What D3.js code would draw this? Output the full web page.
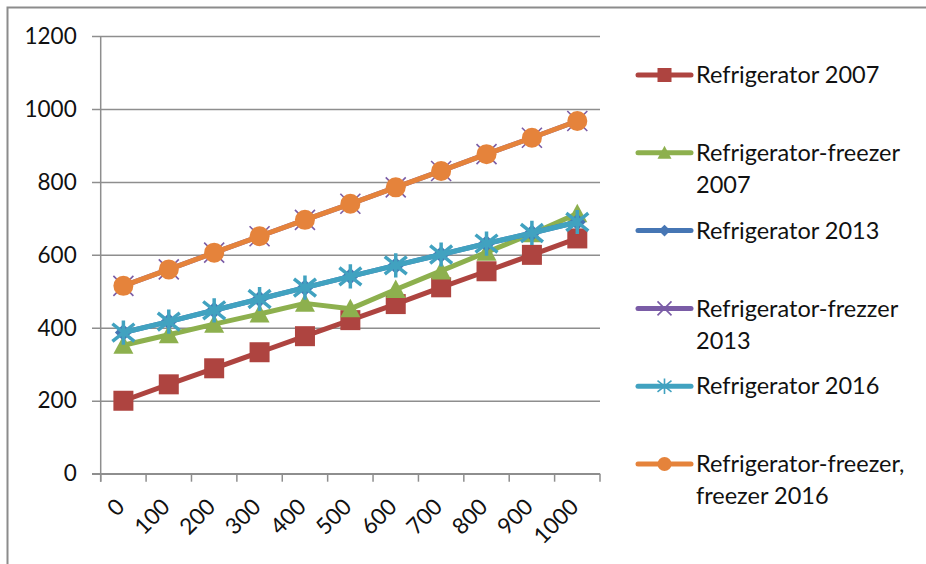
<!DOCTYPE html>
<html>
<head>
<meta charset="utf-8">
<script src="https://cdn.jsdelivr.net/npm/d3@7"></script>
<style>
  html, body { margin: 0; padding: 0; background: #fff; }
  svg { display: block; }
  text { font-family: Lato, "Open Sans", sans-serif; fill: #111; }
</style>
</head>
<body>
<svg id="chart" width="926" height="564"></svg>
<script>
// Energy consumption by storage volume category
const categories = ["0", "100", "200", "300", "400", "500", "600", "700", "800", "900", "1000"];

const refrigerator2007        = [200, 245, 289, 333, 377, 421, 465, 511, 555, 600, 645];
const refrigeratorFreezer2007 = [352, 381, 410, 438, 467, 452, 505, 556, 607, 658, 713];
const refrigerator2013        = [387, 417, 448, 479, 510, 541, 571, 601, 631, 660, 690];
const refrigeratorFrezzer2013 = [515, 560, 606, 651, 696, 740, 785, 830, 876, 921, 967];
const refrigerator2016        = [387, 417, 448, 479, 510, 541, 571, 601, 631, 660, 690];
const refrigeratorFreezer2016 = [515, 560, 606, 651, 696, 740, 785, 830, 876, 921, 967];

const yTicks = [0, 200, 400, 600, 800, 1000, 1200];

const seriesNames = [
  ["Refrigerator 2007"],
  ["Refrigerator-freezer", "2007"],
  ["Refrigerator 2013"],
  ["Refrigerator-frezzer", "2013"],
  ["Refrigerator 2016"],
  ["Refrigerator-freezer,", "freezer 2016"]
];
const seriesValues = [
  refrigerator2007, refrigeratorFreezer2007, refrigerator2013,
  refrigeratorFrezzer2013, refrigerator2016, refrigeratorFreezer2016
];
const seriesColors = ["#AE4440", "#8DB04E", "#4676B4", "#7A5CA6", "#41A2C0", "#E5833B"];
const seriesMarkers = ["square", "triangle", "diamond", "cross", "star", "circle"];

const series = seriesNames.map((name, i) => ({
  name, values: seriesValues[i], color: seriesColors[i], marker: seriesMarkers[i]
}));

const svg = d3.select("#chart");

// chart frame
svg.append("rect")
  .attr("x", 7.5).attr("y", 7.5)
  .attr("width", 1000).attr("height", 1000)
  .attr("fill", "none").attr("stroke", "#8c8c8c").attr("stroke-width", 2);

const plot = { left: 100.7, right: 600, top: 36, bottom: 473.7 };

const x = d3.scaleBand().domain(categories).range([plot.left, plot.right]).padding(0);
const y = d3.scaleLinear().domain([0, 1200]).range([plot.bottom, plot.top]);

const gridColor = "#8e8e8e";

// horizontal gridlines + y axis
const yAxis = svg.append("g")
  .attr("transform", `translate(${plot.left},0)`)
  .call(d3.axisLeft(y).tickValues(yTicks).tickSize(-(plot.right - plot.left)).tickPadding(24).tickFormat(d3.format("d")));
yAxis.select(".domain").remove();
yAxis.selectAll(".tick line")
  .attr("x1", -8.7)
  .attr("stroke", gridColor).attr("stroke-width", 1.5);
yAxis.selectAll(".tick text")
  .attr("font-size", 22.5).attr("font-family", "Lato, sans-serif").attr("fill", "#111");

// vertical axis line
svg.append("line")
  .attr("x1", plot.left).attr("x2", plot.left)
  .attr("y1", plot.top).attr("y2", plot.bottom + 8)
  .attr("stroke", gridColor).attr("stroke-width", 1.5);

// x axis with tick marks at band boundaries
const xAxis = svg.append("g")
  .attr("transform", `translate(0,${plot.bottom})`);
xAxis.append("line")
  .attr("x1", plot.left - 8.7).attr("x2", plot.right)
  .attr("stroke", gridColor).attr("stroke-width", 1.5);
const boundaries = categories.map(c => x(c)).concat([x(categories[categories.length - 1]) + x.bandwidth()]);
xAxis.selectAll("line.tick")
  .data(boundaries)
  .join("line")
  .attr("class", "tick")
  .attr("x1", d => d).attr("x2", d => d)
  .attr("y1", 0).attr("y2", 8)
  .attr("stroke", gridColor).attr("stroke-width", 1.5);
xAxis.selectAll("text.label")
  .data(categories)
  .join("text")
  .attr("class", "label")
  .attr("text-anchor", "end")
  .attr("font-size", 22.5)
  .attr("transform", d => `translate(${x(d) + x.bandwidth() / 2 - 3},${29}) rotate(-45)`)
  .attr("dy", "0.35em")
  .text(d => d);

// marker shapes
function drawMarker(g, type, color, s) {
  const h = s / 2;
  if (type === "square") {
    g.append("rect").attr("x", -h).attr("y", -h).attr("width", s).attr("height", s).attr("fill", color);
  } else if (type === "triangle") {
    g.append("path").attr("d", `M0,${-h}L${h},${h * 0.85}L${-h},${h * 0.85}Z`).attr("fill", color);
  } else if (type === "diamond") {
    const d = h * 0.85;
    g.append("path").attr("d", `M0,${-d}L${d},0L0,${d}L${-d},0Z`).attr("fill", color);
  } else if (type === "cross") {
    g.append("path").attr("d", `M${-h},${-h}L${h},${h}M${-h},${h}L${h},${-h}`)
      .attr("stroke", color).attr("stroke-width", 1.6).attr("fill", "none");
  } else if (type === "star") {
    const a = h;
    g.append("path").attr("d", `M${-a},${-a * 0.8}L${a},${a * 0.8}M${-a},${a * 0.8}L${a},${-a * 0.8}M0,${-h * 1.1}L0,${h * 1.1}`)
      .attr("stroke", color).attr("stroke-width", s > 16 ? 3.5 : 1.6).attr("fill", "none");
  } else if (type === "circle") {
    g.append("circle").attr("r", h).attr("fill", color);
  }
}

const line = d3.line()
  .x((d, i) => x(categories[i]) + x.bandwidth() / 2)
  .y(d => y(d));

// series: line first, then markers, one series at a time
series.forEach(s => {
  const g = svg.append("g");
  g.append("path")
    .datum(s.values)
    .attr("d", line)
    .attr("fill", "none")
    .attr("stroke", s.color)
    .attr("stroke-width", 5)
    .attr("stroke-linejoin", "round")
    .attr("stroke-linecap", "round");
  s.values.forEach((v, i) => {
    const m = g.append("g")
      .attr("transform", `translate(${x(categories[i]) + x.bandwidth() / 2},${y(v)})`);
    drawMarker(m, s.marker, s.color, s.marker === "star" ? 22 : 20);
  });
});

// legend
const legendTop = 75, legendStep = 77.8;
const legend = svg.append("g");
series.forEach((s, i) => {
  const cy = legendTop + i * legendStep;
  const g = legend.append("g").attr("transform", `translate(0,${cy})`);
  g.append("line")
    .attr("x1", 638).attr("x2", 691).attr("y1", 0).attr("y2", 0)
    .attr("stroke", s.color).attr("stroke-width", 5).attr("stroke-linecap", "round");
  const m = g.append("g").attr("transform", "translate(664.5,0)");
  drawMarker(m, s.marker, s.color, 14);
  const t = g.append("text")
    .attr("x", 696).attr("y", 0)
    .attr("font-size", 23.5);
  s.name.forEach((ln, k) => {
    t.append("tspan")
      .attr("x", 696)
      .attr("y", k * 32)
      .attr("dy", "0.35em")
      .text(ln);
  });
});
</script>
</body>
</html>
